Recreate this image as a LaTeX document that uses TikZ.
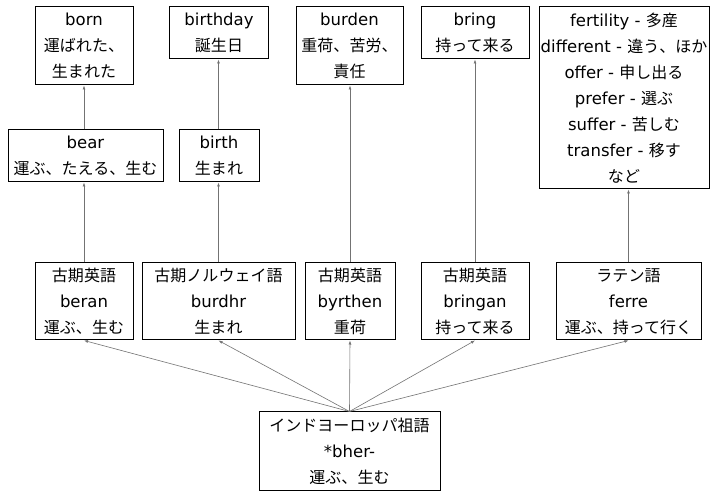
\documentclass[tikz,border=0pt]{standalone}
\usepackage{fontspec}
\setmainfont{DejaVu Sans}
\newfontfamily\jpfont[Scale=0.97]{Noto Sans CJK JP}
\newcommand{\jpt}[1]{{\jpfont #1}}
\usetikzlibrary{arrows.meta}
\tikzset{
  box/.style={draw=black, line width=1pt, fill=white, inner sep=0pt, align=center,
    font=\fontsize{16.5}{26}\selectfont, anchor=center},
  link/.style={draw=black!55, line width=0.6pt, -{Latex[length=4pt,width=3pt]}}
}
\begin{document}
\begin{tikzpicture}[x=1pt,y=-1pt]
\useasboundingbox[fill=white] (0,0) rectangle (724,497);
% top row
\node[box, minimum width=98pt, minimum height=78pt] (born) at (84,46) {born\\\jpt{運ばれた、}\\\jpt{生まれた}};
\node[box, minimum width=99pt, minimum height=52pt] (birthday) at (219,33) {birthday\\\jpt{誕生日}};
\node[box, minimum width=107pt, minimum height=78pt] (burden) at (349.5,46) {burden\\\jpt{重荷、苦労、}\\\jpt{責任}};
\node[box, minimum width=108pt, minimum height=52pt] (bring) at (475,33) {bring\\\jpt{持って来る}};
\node[box, minimum width=170pt, minimum height=182pt] (fert) at (624,98) {fertility - \jpt{多産}\\different - \jpt{違う、ほか}\\offer - \jpt{申し出る}\\prefer - \jpt{選ぶ}\\suffer - \jpt{苦しむ}\\transfer - \jpt{移す}\\\jpt{など}};
% middle row
\node[box, minimum width=155pt, minimum height=52pt] (bear) at (85.5,156) {bear\\\jpt{運ぶ、たえる、生む}};
\node[box, minimum width=80pt, minimum height=52pt] (birth) at (219,156) {birth\\\jpt{生まれ}};
% bottom row
\node[box, minimum width=98pt, minimum height=77pt] (beran) at (84,301.5) {\jpt{古期英語}\\beran\\\jpt{運ぶ、生む}};
\node[box, minimum width=153pt, minimum height=77pt] (norse) at (218.5,301.5) {\jpt{古期ノルウェイ語}\\burdhr\\\jpt{生まれ}};
\node[box, minimum width=90pt, minimum height=77pt] (byrthen) at (350,301.5) {\jpt{古期英語}\\byrthen\\\jpt{重荷}};
\node[box, minimum width=108pt, minimum height=77pt] (bringan) at (475,301.5) {\jpt{古期英語}\\bringan\\\jpt{持って来る}};
\node[box, minimum width=145pt, minimum height=77pt] (latin) at (628.5,301.5) {\jpt{ラテン語}\\ferre\\\jpt{運ぶ、持って行く}};
% root
\node[box, minimum width=181pt, minimum height=78pt] (root) at (349.5,451) {\jpt{インドヨーロッパ祖語}\\*bher-\\\jpt{運ぶ、生む}};
% connectors
\draw[link] (root.north) -- (beran.south);
\draw[link] (root.north) -- (norse.south);
\draw[link] (root.north) -- (byrthen.south);
\draw[link] (root.north) -- (bringan.south);
\draw[link] (root.north) -- (latin.south);
\draw[link] (beran.north) -- (beran.north |- bear.south);
\draw[link] (beran.north |- bear.north) -- (beran.north |- born.south);
\draw[link] (norse.north) -- (norse.north |- birth.south);
\draw[link] (norse.north |- birth.north) -- (norse.north |- birthday.south);
\draw[link] (byrthen.north) -- (byrthen.north |- burden.south);
\draw[link] (bringan.north) -- (bring.south);
\draw[link] (latin.north) -- (latin.north |- fert.south);
\end{tikzpicture}
\end{document}
